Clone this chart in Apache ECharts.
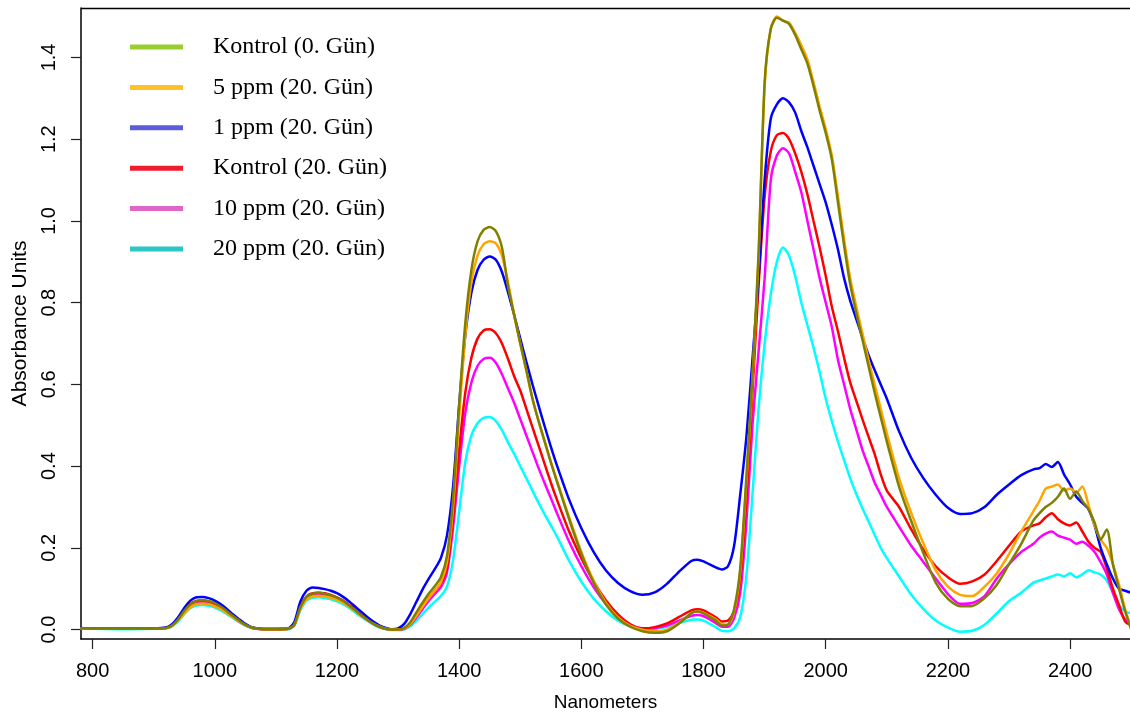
<!DOCTYPE html>
<html>
<head>
<meta charset="utf-8">
<script src="https://cdn.jsdelivr.net/npm/echarts@6/dist/echarts.min.js"></script>
<style>
html,body{margin:0;padding:0;background:#fff;}
#chart{width:1130px;height:717px;}
</style>
</head>
<body>
<div id="chart"></div>
<script>
// ---------- DATA ----------
const wavelengths = [
  780, 800, 850, 900, 920, 930, 940, 950, 960, 970, 980, 990, 1000, 1010, 1020, 1030, 1040, 1050, 1060, 1070, 1080, 1100,
  1120, 1130, 1140, 1150, 1160, 1170, 1180, 1190, 1200, 1210, 1220, 1230, 1240, 1250, 1260, 1270, 1280, 1290, 1300,
  1310, 1320, 1330, 1340, 1350, 1360, 1370, 1380, 1390, 1400, 1410, 1420, 1430, 1440, 1450,
  1460, 1470, 1480, 1490, 1500, 1510, 1520, 1530, 1540, 1550, 1560, 1580, 1600, 1620, 1640, 1660, 1680, 1700,
  1720, 1740, 1760, 1780, 1790, 1800, 1820, 1830, 1840, 1850,
  1860, 1870, 1880, 1890, 1900, 1910, 1920, 1930, 1940, 1950,
  1960, 1970, 1980, 1990, 2000, 2010, 2020, 2030, 2040, 2050, 2060, 2070, 2080, 2090, 2100,
  2120, 2140, 2160, 2180, 2200, 2220, 2240, 2260, 2280, 2300,
  2320, 2340, 2350, 2360, 2370, 2380, 2390, 2400, 2410, 2420,
  2430, 2440, 2450, 2460, 2470, 2480, 2490, 2500
];

const kontrol0 = [
  0.003, 0.002, 0.002, 0.002, 0.004, 0.010, 0.025, 0.046, 0.062, 0.070, 0.072, 0.070, 0.065, 0.056, 0.045, 0.033, 0.022, 0.012, 0.005, 0.002, 0.001, 0.001,
  0.002, 0.012, 0.055, 0.080, 0.088, 0.090, 0.088, 0.084, 0.078, 0.070, 0.059, 0.047, 0.035, 0.024, 0.014, 0.007, 0.002, 0.000, 0.000,
  0.004, 0.018, 0.042, 0.066, 0.088, 0.106, 0.128, 0.180, 0.320, 0.550, 0.750, 0.880, 0.950, 0.978, 0.985,
  0.975, 0.935, 0.840, 0.770, 0.700, 0.635, 0.565, 0.510, 0.460, 0.410, 0.362, 0.270, 0.185, 0.115, 0.062, 0.027, 0.007, -0.004,
  -0.008, -0.004, 0.015, 0.040, 0.044, 0.040, 0.022, 0.010, 0.012, 0.050,
  0.150, 0.370, 0.620, 0.920, 1.340, 1.470, 1.497, 1.490, 1.482, 1.455,
  1.420, 1.385, 1.330, 1.270, 1.215, 1.150, 1.045, 0.940, 0.845, 0.775, 0.710, 0.645, 0.580, 0.520, 0.460,
  0.350, 0.265, 0.186, 0.115, 0.075, 0.057, 0.058, 0.077, 0.110, 0.160,
  0.210, 0.267, 0.285, 0.300, 0.310, 0.325, 0.345, 0.320, 0.338, 0.315,
  0.295, 0.262, 0.220, 0.245, 0.160, 0.100, 0.045, 0.000
];

const ppm5 = [
  0.003, 0.002, 0.002, 0.002, 0.003, 0.009, 0.022, 0.040, 0.055, 0.062, 0.064, 0.062, 0.057, 0.050, 0.040, 0.030, 0.020, 0.011, 0.005, 0.002, 0.001, 0.001,
  0.002, 0.011, 0.050, 0.074, 0.081, 0.083, 0.081, 0.078, 0.073, 0.066, 0.056, 0.045, 0.034, 0.023, 0.014, 0.007, 0.002, 0.000, 0.000,
  0.003, 0.014, 0.034, 0.056, 0.077, 0.095, 0.115, 0.165, 0.300, 0.520, 0.720, 0.850, 0.915, 0.943, 0.950,
  0.945, 0.915, 0.850, 0.770, 0.700, 0.632, 0.565, 0.510, 0.460, 0.410, 0.365, 0.275, 0.190, 0.120, 0.066, 0.030, 0.009, 0.000,
  -0.004, 0.000, 0.017, 0.040, 0.044, 0.041, 0.025, 0.013, 0.012, 0.045,
  0.140, 0.360, 0.610, 0.910, 1.330, 1.470, 1.500, 1.490, 1.485, 1.460,
  1.430, 1.395, 1.340, 1.280, 1.225, 1.160, 1.060, 0.955, 0.860, 0.790, 0.725, 0.660, 0.600, 0.540, 0.480,
  0.370, 0.285, 0.210, 0.145, 0.105, 0.085, 0.082, 0.105, 0.138, 0.185,
  0.240, 0.290, 0.315, 0.345, 0.350, 0.355, 0.340, 0.345, 0.335, 0.350,
  0.305, 0.255, 0.220, 0.200, 0.160, 0.110, 0.050, 0.005
];

const ppm1 = [
  0.004, 0.003, 0.003, 0.003, 0.005, 0.013, 0.030, 0.053, 0.071, 0.079, 0.080, 0.077, 0.071, 0.062, 0.050, 0.037, 0.025, 0.014, 0.006, 0.003, 0.002, 0.002,
  0.003, 0.018, 0.068, 0.095, 0.103, 0.102, 0.099, 0.095, 0.089, 0.080, 0.069, 0.056, 0.043, 0.030, 0.019, 0.010, 0.004, 0.001, 0.003,
  0.014, 0.038, 0.068, 0.098, 0.124, 0.148, 0.175, 0.230, 0.350, 0.550, 0.720, 0.825, 0.880, 0.905, 0.913,
  0.905, 0.875, 0.825, 0.770, 0.712, 0.655, 0.600, 0.548, 0.497, 0.448, 0.402, 0.318, 0.248, 0.190, 0.145, 0.114, 0.094, 0.085,
  0.091, 0.112, 0.142, 0.168, 0.171, 0.167, 0.152, 0.147, 0.155, 0.205,
  0.330, 0.470, 0.660, 0.860, 1.100, 1.250, 1.285, 1.300, 1.290, 1.265,
  1.220, 1.180, 1.135, 1.090, 1.045, 0.990, 0.930, 0.860, 0.805, 0.760, 0.715, 0.672, 0.635, 0.600, 0.565,
  0.485, 0.420, 0.370, 0.330, 0.298, 0.283, 0.285, 0.300, 0.330, 0.355,
  0.378, 0.392, 0.395, 0.405, 0.398, 0.410, 0.380, 0.355, 0.325, 0.310,
  0.295, 0.255, 0.200, 0.160, 0.125, 0.100, 0.095, 0.090
];

const kontrol20 = [
  0.003, 0.002, 0.002, 0.002, 0.004, 0.010, 0.026, 0.047, 0.063, 0.070, 0.071, 0.069, 0.064, 0.055, 0.044, 0.032, 0.021, 0.012, 0.005, 0.002, 0.001, 0.001,
  0.002, 0.012, 0.056, 0.081, 0.089, 0.090, 0.089, 0.085, 0.079, 0.071, 0.060, 0.048, 0.036, 0.025, 0.015, 0.007, 0.002, 0.000, 0.000,
  0.003, 0.015, 0.036, 0.058, 0.078, 0.095, 0.113, 0.150, 0.270, 0.440, 0.580, 0.665, 0.712, 0.732, 0.735,
  0.725, 0.700, 0.662, 0.620, 0.585, 0.540, 0.495, 0.450, 0.405, 0.360, 0.318, 0.240, 0.175, 0.118, 0.072, 0.037, 0.013, 0.003,
  0.006, 0.015, 0.031, 0.047, 0.050, 0.047, 0.030, 0.020, 0.022, 0.045,
  0.120, 0.320, 0.580, 0.840, 1.060, 1.170, 1.210, 1.215, 1.200, 1.165,
  1.120, 1.065, 1.000, 0.935, 0.865, 0.790, 0.730, 0.665, 0.605, 0.560, 0.515, 0.472, 0.430, 0.380, 0.340,
  0.300, 0.245, 0.195, 0.155, 0.128, 0.112, 0.118, 0.135, 0.168, 0.205,
  0.240, 0.255, 0.260, 0.275, 0.285, 0.270, 0.260, 0.255, 0.262, 0.240,
  0.215, 0.200, 0.190, 0.150, 0.100, 0.060, 0.020, 0.010
];

const ppm10 = [
  0.003, 0.002, 0.002, 0.002, 0.004, 0.010, 0.025, 0.045, 0.060, 0.067, 0.068, 0.066, 0.061, 0.053, 0.042, 0.031, 0.020, 0.011, 0.005, 0.002, 0.001, 0.001,
  0.002, 0.011, 0.053, 0.078, 0.085, 0.086, 0.085, 0.081, 0.075, 0.068, 0.057, 0.046, 0.034, 0.023, 0.014, 0.006, 0.002, 0.000, 0.000,
  0.002, 0.012, 0.030, 0.050, 0.070, 0.087, 0.104, 0.140, 0.250, 0.400, 0.530, 0.605, 0.645, 0.662, 0.665,
  0.653, 0.625, 0.590, 0.555, 0.515, 0.475, 0.435, 0.395, 0.358, 0.322, 0.285, 0.215, 0.155, 0.104, 0.063, 0.032, 0.012, 0.003,
  0.004, 0.010, 0.022, 0.034, 0.036, 0.033, 0.016, 0.007, 0.007, 0.028,
  0.090, 0.260, 0.500, 0.680, 0.860, 1.100, 1.160, 1.178, 1.165, 1.120,
  1.070, 1.000, 0.930, 0.860, 0.800, 0.740, 0.660, 0.600, 0.540, 0.490, 0.440, 0.400, 0.360, 0.330, 0.300,
  0.252, 0.205, 0.165, 0.125, 0.087, 0.063, 0.065, 0.082, 0.125, 0.160,
  0.190, 0.210, 0.225, 0.235, 0.240, 0.230, 0.225, 0.220, 0.210, 0.215,
  0.205, 0.190, 0.165, 0.135, 0.090, 0.050, 0.025, 0.010
];

const ppm20 = [
  0.002, 0.002, 0.001, 0.002, 0.003, 0.008, 0.020, 0.038, 0.052, 0.059, 0.060, 0.058, 0.054, 0.047, 0.038, 0.028, 0.018, 0.010, 0.004, 0.002, 0.001, 0.001,
  0.001, 0.009, 0.047, 0.071, 0.078, 0.079, 0.077, 0.074, 0.069, 0.062, 0.053, 0.042, 0.031, 0.021, 0.012, 0.005, 0.001, -0.001, -0.001,
  0.001, 0.008, 0.022, 0.038, 0.054, 0.068, 0.082, 0.105, 0.170, 0.290, 0.410, 0.475, 0.505, 0.518, 0.520,
  0.510, 0.488, 0.458, 0.430, 0.400, 0.370, 0.340, 0.310, 0.282, 0.255, 0.228, 0.168, 0.117, 0.076, 0.045, 0.022, 0.008, 0.001,
  0.002, 0.007, 0.016, 0.024, 0.025, 0.022, 0.006, -0.003, -0.004, 0.003,
  0.030, 0.130, 0.330, 0.540, 0.700, 0.820, 0.900, 0.935, 0.915, 0.865,
  0.800, 0.745, 0.690, 0.630, 0.565, 0.510, 0.460, 0.415, 0.370, 0.332, 0.297, 0.265, 0.232, 0.200, 0.175,
  0.130, 0.085, 0.050, 0.022, 0.005, -0.005, -0.003, 0.012, 0.040, 0.070,
  0.090, 0.115, 0.120, 0.125, 0.130, 0.135, 0.130, 0.138, 0.128, 0.135,
  0.145, 0.140, 0.135, 0.120, 0.090, 0.060, 0.045, 0.040
];

const seriesNames = ['Kontrol (0. Gün)', '5 ppm (20. Gün)', '1 ppm (20. Gün)', 'Kontrol (20. Gün)', '10 ppm (20. Gün)', '20 ppm (20. Gün)'];
const seriesValues = [kontrol0, ppm5, ppm1, kontrol20, ppm10, ppm20];
const xTicks = [800, 1000, 1200, 1400, 1600, 1800, 2000, 2200, 2400];
const yTicks = [0, 0.2, 0.4, 0.6, 0.8, 1.0, 1.2, 1.4];

// ---------- STYLE ----------
const lineColors = ['#808000', '#FFA500', '#0000FF', '#FF0000', '#FF00FF', '#00FFFF'];
const legendColors = ['#9ACD32', '#FFC125', '#5B5BDC', '#EE1C2C', '#DD66C8', '#2CC6C6'];
const drawOrder = [5, 4, 3, 2, 1, 0]; // cyan first, olive last (on top)

const series = drawOrder.map(i => ({
  name: seriesNames[i],
  type: 'line',
  data: wavelengths.map((w, k) => [w, seriesValues[i][k]]),
  showSymbol: false,
  symbol: 'none',
  smooth: 0.25,
  lineStyle: { color: lineColors[i], width: 2.5 },
  itemStyle: { color: lineColors[i] },
  z: 2,
  silent: true,
  animation: false
}));

const graphics = [
  // top frame line of the plot box
  { type: 'line', shape: { x1: 81, y1: 8.5, x2: 1130, y2: 8.5 }, style: { stroke: '#000', lineWidth: 1.5 }, z: 60, silent: true },
  // white background behind legend
  { type: 'rect', left: 130, top: 24, shape: { width: 262, height: 246 }, style: { fill: '#ffffff' }, z: 50, silent: true }
];
seriesNames.forEach((n, i) => {
  const cy = 47 + i * 40.4;
  graphics.push({ type: 'rect', x: 130, y: cy - 2.5, shape: { width: 53, height: 5 }, style: { fill: legendColors[i] }, z: 51, silent: true });
  graphics.push({ type: 'text', x: 213, y: cy, style: { text: n, font: '24px "Liberation Serif", "Times New Roman", serif', fill: '#000', textVerticalAlign: 'middle', verticalAlign: 'middle' }, z: 51, silent: true });
});

const chart = echarts.init(document.getElementById('chart'), null, { renderer: 'canvas' });
chart.setOption({
  animation: false,
  backgroundColor: '#ffffff',
  grid: { left: 81, right: 0, top: 8, bottom: 75, show: false },
  xAxis: {
    type: 'value', min: 781, max: 2498,
    name: 'Nanometers', nameLocation: 'middle', nameGap: 54,
    nameTextStyle: { fontFamily: 'Liberation Sans', fontSize: 19, color: '#000' },
    axisLine: { show: true, onZero: false, lineStyle: { color: '#000', width: 1.5 } },
    axisTick: { show: true, length: 10, customValues: xTicks, lineStyle: { color: '#222', width: 1.2 } },
    axisLabel: { customValues: xTicks, margin: 22, fontFamily: 'Liberation Sans', fontSize: 20, color: '#000',
      formatter: v => String(v) },
    splitLine: { show: false }
  },
  yAxis: {
    type: 'value', min: -0.023, max: 1.521,
    name: 'Absorbance Units', nameLocation: 'middle', nameGap: 50,
    nameTextStyle: { fontFamily: 'Liberation Sans', fontSize: 21, color: '#000' },
    axisLine: { show: true, onZero: false, lineStyle: { color: '#000', width: 1.5 } },
    axisTick: { show: true, length: 10, customValues: yTicks, lineStyle: { color: '#222', width: 1.2 } },
    axisLabel: { customValues: yTicks, rotate: 90, margin: 22, fontFamily: 'Liberation Sans', fontSize: 20, color: '#000',
      formatter: v => v.toFixed(1) },
    splitLine: { show: false }
  },
  graphic: graphics,
  series: series
});
</script>
</body>
</html>
